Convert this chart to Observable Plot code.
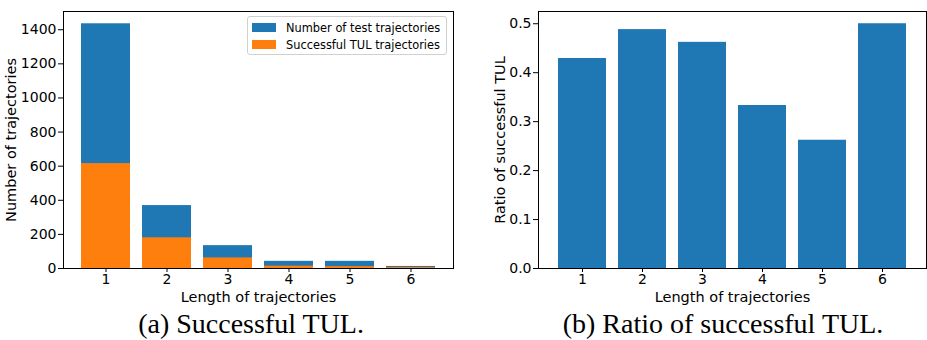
<!DOCTYPE html>
<html><head><meta charset="utf-8">
<script src="https://cdn.jsdelivr.net/npm/d3@7"></script>
<script src="https://cdn.jsdelivr.net/npm/@observablehq/plot@0.6"></script>
<style>
body{margin:0;background:#fff;}
#wrap{position:relative;width:927px;height:340px;overflow:hidden;font-family:"DejaVu Sans";background:#fff;}
#wrap svg text{font-size:14px;font-family:"DejaVu Sans";fill:#000;}
#wrap svg g[aria-label$="axis label"] text{font-size:14.5px;}
.panel{position:absolute;top:0;}
.cap{position:absolute;font-family:"Liberation Serif";font-size:28px;line-height:28px;white-space:nowrap;transform:translateX(-50%);color:#000;}
.legend{position:absolute;left:247px;top:16px;width:198px;height:37px;border:1px solid #d0d0d0;border-radius:3px;background:rgba(255,255,255,0.8);font-family:"DejaVu Sans";font-size:11.4px;color:#000;}
.legend .row{position:absolute;left:4px;height:13px;display:flex;align-items:center;white-space:nowrap;}
.legend .sw{width:24px;height:9px;margin-right:10px;}
</style>
</head><body>
<div id="wrap">
  <div id="pa" class="panel" style="left:0px"></div>
  <div id="pb" class="panel" style="left:464px"></div>
  <div class="legend">
    <div class="row" style="top:4px"><div class="sw" style="background:#1f77b4"></div>Number of test trajectories</div>
    <div class="row" style="top:21px"><div class="sw" style="background:#ff7f0e"></div>Successful TUL trajectories</div>
  </div>
  <div class="cap" style="left:251px;top:310px">(a) Successful TUL.</div>
  <div class="cap" style="left:723px;top:310px">(b) Ratio of successful TUL.</div>
</div>
<script>
const lengths = [1, 2, 3, 4, 5, 6];
const testCounts = [1435, 369, 134, 42, 42, 12];
const successCounts = [615, 180, 62, 14, 11, 6];
const ratios = [0.429, 0.488, 0.462, 0.333, 0.262, 0.5];
const yTicksA = [0, 200, 400, 600, 800, 1000, 1200, 1400];
const yTicksB = [0, 0.1, 0.2, 0.3, 0.4, 0.5];

const blue = "#1f77b4", orange = "#ff7f0e";
const rowsA = lengths.map((l, i) => ({len: l, total: testCounts[i], success: successCounts[i]}));
const rowsB = lengths.map((l, i) => ({len: l, ratio: ratios[i]}));

const style = {fontFamily: "DejaVu Sans", fontSize: "14px", color: "black", background: "white", overflow: "visible"};
const fs = 14;

const plotA = Plot.plot({
  width: 463, height: 308,
  marginLeft: 63, marginRight: 10, marginTop: 11, marginBottom: 40,
  style,
  x: {type: "band", domain: lengths, paddingInner: 0.2, paddingOuter: 0.29},
  y: {domain: [0, 1507]},
  marks: [
    Plot.barY(rowsA, {x: "len", y: "total", fill: blue}),
    Plot.barY(rowsA, {x: "len", y: "success", fill: orange}),
    Plot.frame({stroke: "black"}),
    Plot.axisX({fontSize: fs, tickSize: 4, tickPadding: 2, label: "Length of trajectories", labelAnchor: "center", labelArrow: "none", labelOffset: 33}),
    Plot.axisY({fontSize: fs, ticks: yTicksA, tickFormat: d3.format("d"), tickSize: 5, tickPadding: 2, label: "Number of trajectories", labelAnchor: "center", labelArrow: "none", labelOffset: 58})
  ]
});
document.getElementById("pa").appendChild(plotA);

const plotB = Plot.plot({
  width: 463, height: 308,
  marginLeft: 74, marginRight: 1, marginTop: 11, marginBottom: 40,
  style,
  x: {type: "band", domain: lengths, paddingInner: 0.2, paddingOuter: 0.29},
  y: {domain: [0, 0.525]},
  marks: [
    Plot.barY(rowsB, {x: "len", y: "ratio", fill: blue}),
    Plot.frame({stroke: "black"}),
    Plot.axisX({fontSize: fs, tickSize: 4, tickPadding: 2, label: "Length of trajectories", labelAnchor: "center", labelArrow: "none", labelOffset: 33}),
    Plot.axisY({fontSize: fs, ticks: yTicksB, tickFormat: d3.format(".1f"), tickSize: 5, tickPadding: 2, label: "Ratio of successful TUL", labelAnchor: "center", labelArrow: "none", labelOffset: 44})
  ]
});
document.getElementById("pb").appendChild(plotB);
</script>
</body></html>
